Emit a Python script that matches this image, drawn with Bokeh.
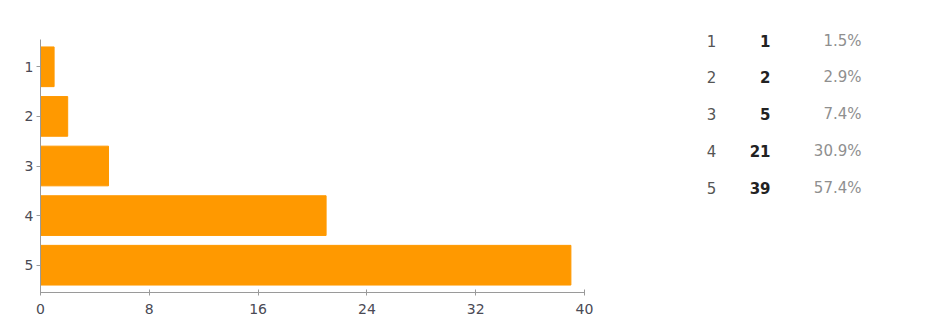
from bokeh.plotting import figure
from bokeh.layouts import row, column
from bokeh.models import Range1d, FactorRange, FixedTicker, ColumnDataSource
from bokeh.core.properties import value
from bokeh.embed import file_html
from bokeh.resources import INLINE

# Rating scale answers and how many responses each got
ratings = ["1", "2", "3", "4", "5"]
counts = [1, 2, 5, 21, 39]
x_ticks = [0, 8, 16, 24, 32, 40]

total = sum(counts)
percents = [f"{c / total * 100:.1f}%" for c in counts]

BAR = "#FF9900"
FONT = "DejaVu Sans"
TOP, FRAME_H, BOTTOM = 39, 253, 37

# --- horizontal bar chart ---
p = figure(
    width=640, height=329,
    y_range=FactorRange(factors=list(reversed(ratings)), range_padding=0.02),
    x_range=Range1d(0, 40),
    output_backend="svg", toolbar_location=None,
    min_border_left=40, min_border_right=56,
    min_border_top=TOP, min_border_bottom=BOTTOM,
    frame_width=544, frame_height=FRAME_H,
)
p.hbar(y=ratings, right=counts, left=0, height=0.8, color=BAR, line_color=BAR)

p.outline_line_color = None
p.xgrid.visible = False
p.ygrid.visible = False

p.xaxis.ticker = FixedTicker(ticks=x_ticks)
p.xaxis.axis_line_color = "#9a9a9a"
p.xaxis.major_tick_line_color = "#9a9a9a"
p.xaxis.major_tick_in = 3
p.xaxis.major_tick_out = 3
p.xaxis.minor_tick_line_color = None
p.xaxis.major_label_standoff = 8
p.xaxis.major_label_text_font = FONT
p.xaxis.major_label_text_font_size = "14px"
p.xaxis.major_label_text_color = "#4a4a55"

p.yaxis.axis_line_color = "#9a9a9a"
p.yaxis.major_tick_line_color = "#9a9a9a"
p.yaxis.major_tick_in = 0
p.yaxis.major_tick_out = 4
p.yaxis.major_label_standoff = 3
p.yaxis.major_label_text_font = FONT
p.yaxis.major_label_text_font_size = "14px"
p.yaxis.major_label_text_color = "#4a4a55"

# --- summary table: rating, count, share ---
# data units equal page pixels across the whole table panel
t = figure(
    width=285, height=329,
    x_range=Range1d(0, 285), y_range=Range1d(329, 0),
    output_backend="svg", toolbar_location=None,
    min_border=0, frame_width=285, frame_height=329,
)
t.axis.visible = False
t.xgrid.visible = False
t.ygrid.visible = False
t.outline_line_color = None

row_y = [40 + 36.8 * i for i in range(len(ratings))]
src = ColumnDataSource(dict(
    y=row_y, rating=ratings,
    count=[str(c) for c in counts], pct=percents,
    xr=[71] * len(ratings), xc=[130] * len(ratings), xp=[221] * len(ratings),
))
t.text(x="xr", y="y", text="rating", source=src, text_align="center",
       text_baseline="middle", text_font=value(FONT), text_font_size="15px",
       text_color="#555555")
t.text(x="xc", y="y", text="count", source=src, text_align="right",
       text_baseline="middle", text_font=value(FONT), text_font_size="15px",
       text_font_style="bold", text_color="#222222")
t.text(x="xp", y="y", text="pct", source=src, text_align="right",
       text_baseline="middle", text_font=value(FONT), text_font_size="15px",
       text_color="#8f8f8f")

layout = row(p, column(t))
open("out.html", "w").write(file_html(layout, INLINE))
